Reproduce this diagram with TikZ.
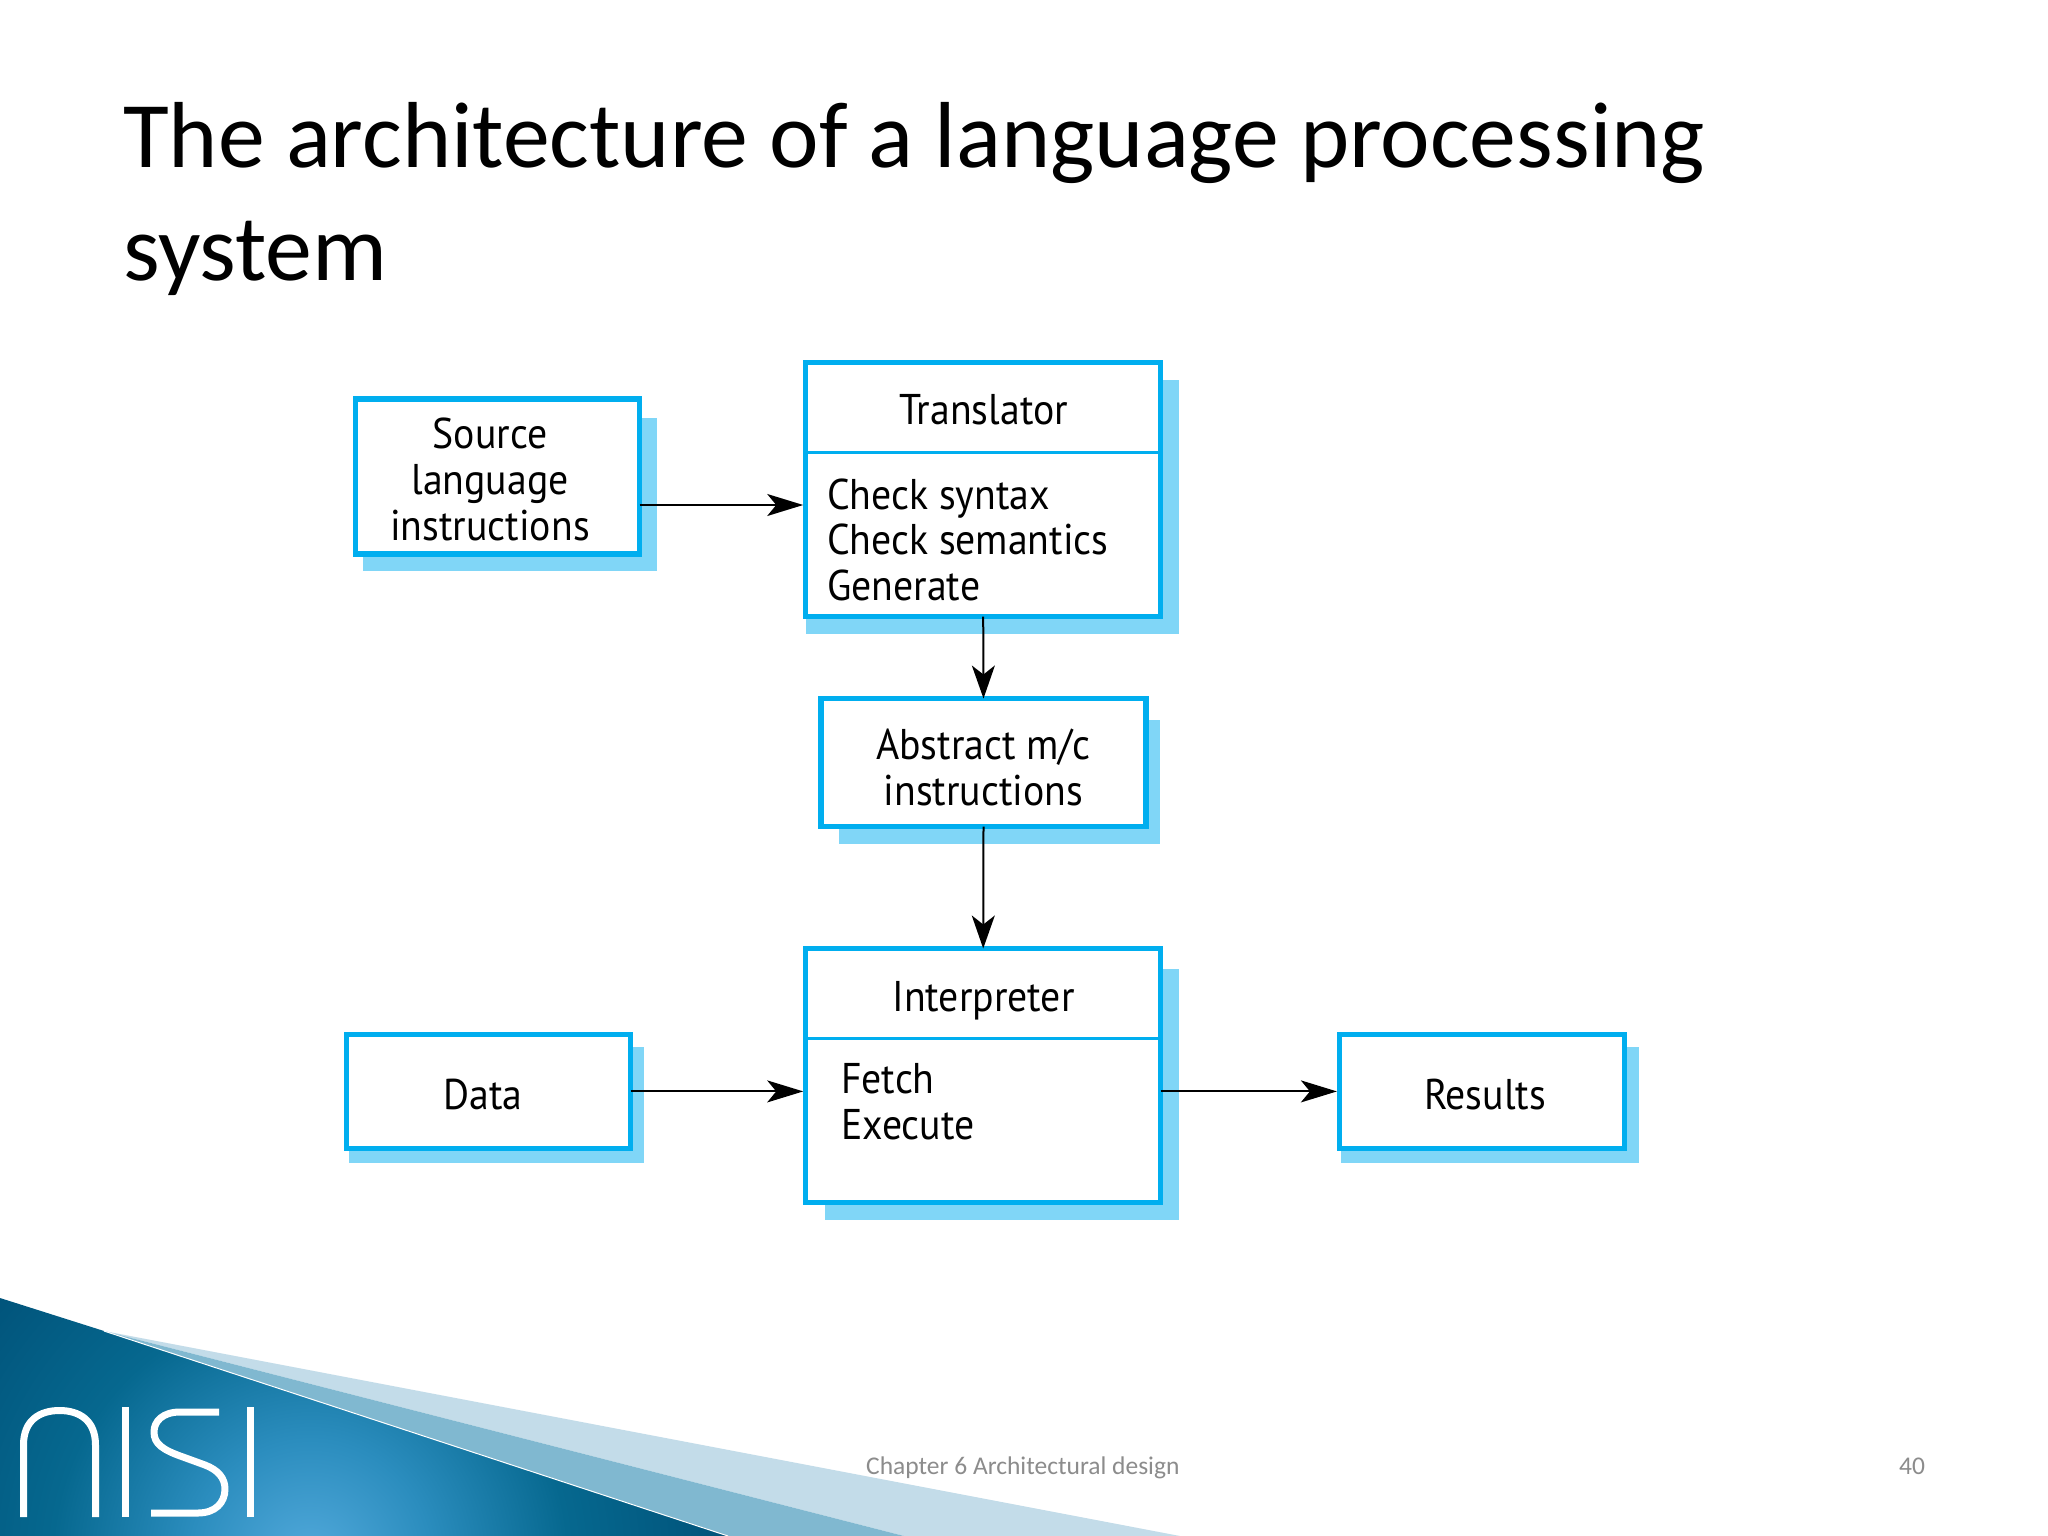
\documentclass[tikz,border=0pt]{standalone}
\usepackage{fontspec}
\usetikzlibrary{arrows.meta}
\setmainfont{Carlito}
\newfontfamily\boxfont[FakeStretch=0.925]{PT Sans}
\definecolor{boxline}{HTML}{00AEEF}
\definecolor{boxshadow}{HTML}{80D6F7}
\definecolor{footgrey}{HTML}{8C8C8C}
\definecolor{glowA}{HTML}{52A9DB}
\definecolor{glowB}{HTML}{2B8DBE}
\definecolor{glowC}{HTML}{06688F}
\definecolor{glowD}{HTML}{005178}
\definecolor{wedgeMid}{HTML}{80B8D0}
\definecolor{wedgeLight}{HTML}{C3DCE9}
\pgfdeclareradialshading{nisiglow}{\pgfpointorigin}{color(0bp)=(glowA); color(7bp)=(glowB); color(15bp)=(glowC); color(25bp)=(glowD); color(50bp)=(glowD)}
\tikzset{
  x=1pt,y=-1pt,
  frame/.style={draw=boxline,line width=5.5pt,fill=white,inner sep=0pt,outer sep=0pt,anchor=center},
  shade box/.style={fill=boxshadow,draw=none},
  divider/.style={draw=boxline,line width=3pt},
  label text/.style={inner sep=0pt,font=\boxfont\fontsize{43}{45.7}\selectfont,align=center,anchor=base},
  label left/.style={inner sep=0pt,font=\boxfont\fontsize{43}{45.7}\selectfont,align=left,anchor=base west},
  flow/.style={draw=black,line width=2pt,shorten >=2.5pt,-{Stealth[length=36pt,width=22pt,inset=9pt]}},
  flow down/.style={draw=black,line width=2pt,-{Stealth[length=33pt,width=23pt,inset=9pt]}},
  title text/.style={inner sep=0pt,anchor=base west,font=\fontsize{93.8}{94}\selectfont},
  foot text/.style={inner sep=0pt,anchor=base west,text=footgrey,font=\fontsize{25.5}{26}\selectfont},
  logo/.style={draw=white,line width=7pt,line join=round},
}
\begin{document}
\begin{tikzpicture}
\useasboundingbox (0,0) rectangle (2048,1536);
\fill[white] (0,0) rectangle (2048,1536);
% corner graphic
\fill[wedgeLight] (104,1331) -- (1180,1536) -- (904,1536) -- cycle;
\fill[wedgeMid] (104,1331) -- (904,1536) -- (728,1536) -- cycle;
\begin{scope}
\clip (0,1298) -- (104,1331) -- (728,1536) -- (0,1536) -- cycle;
\shade[shading=nisiglow] (310,1560) circle[radius=430];
\end{scope}
\draw[white,line width=1pt] (104,1331) -- (728,1536);
% logo
\draw[logo] (23.5,1517) -- (23.5,1445) .. controls (23.5,1420) and (40,1410.5) .. (59.5,1410.5) .. controls (79,1410.5) and (95.5,1420) .. (95.5,1445) -- (95.5,1517);
\draw[logo] (125.8,1407) -- (125.8,1517);
\draw[logo] (219,1412) -- (180,1412) .. controls (163,1412) and (154,1421) .. (154,1432) .. controls (154,1444) and (163,1450) .. (183,1457) -- (205,1465) .. controls (218,1470) and (225,1478) .. (225,1489) .. controls (225,1503) and (215,1513) .. (198,1513) -- (151,1513);
\draw[logo] (250.5,1407) -- (250.5,1517);
% title
\node[title text] (titleA) at (123,167.5) {The architecture of a language processing};
\node[title text] (titleB) at (123,280) {system};
% shadows
\fill[shade box] (363,418) rectangle (657,571);
\fill[shade box] (806,380) rectangle (1179.4,633.5);
\fill[shade box] (838.5,720) rectangle (1160,844);
\fill[shade box] (825.4,969) rectangle (1179.4,1220);
\fill[shade box] (349,1047) rectangle (644,1163);
\fill[shade box] (1341,1047) rectangle (1639,1163);
% boxes
\node[frame,minimum width=284pt,minimum height=155pt] (source) at (497.6,476.7) {};
\node[frame,minimum width=355pt,minimum height=254pt] (trans) at (983.2,489.5) {};
\node[frame,minimum width=325pt,minimum height=128pt] (abstract) at (983.5,762.5) {};
\node[frame,minimum width=355pt,minimum height=254pt] (interp) at (983.2,1075.5) {};
\node[frame,minimum width=284pt,minimum height=114pt] (data) at (488.5,1091.4) {};
\node[frame,minimum width=285pt,minimum height=114pt] (results) at (1481.9,1091.4) {};
\draw[divider] (trans.west |- 0,452.7) -- (trans.east |- 0,452.7);
\draw[divider] (interp.west |- 0,1038) -- (interp.east |- 0,1038);
% labels
\node[label text] (sourceT) at (490,540) {Source\\language\\instructions};
\node[label text] (transT) at (983.5,424) {Translator};
\node[label left] (transB) at (827,600.5) {Check syntax\\Check semantics\\Generate};
\node[label text] (abstractT) at (983.5,805.5) {Abstract m/c\\instructions};
\node[label text] (interpT) at (983.5,1011) {Interpreter};
\node[label left] (interpB) at (841,1139.5) {Fetch\\Execute};
\node[label text] (dataT) at (483,1109) {Data};
\node[label text] (resultsT) at (1485,1109) {Results};
% connectors
\coordinate (row) at (0,505);
\draw[flow] (source.east |- row) -- (trans.west |- row);
\draw[flow down] (trans.south) -- (abstract.north);
\draw[flow down] (abstract.south) -- (interp.north);
\draw[flow] (data.east) -- (interp.west |- data.east);
\draw[flow] (interp.east |- results.west) -- (results.west);
% footer
\node[foot text] (footer) at (866,1474) {Chapter 6 Architectural design};
\node[foot text] (page) at (1899,1474) {40};
\end{tikzpicture}
\end{document}
